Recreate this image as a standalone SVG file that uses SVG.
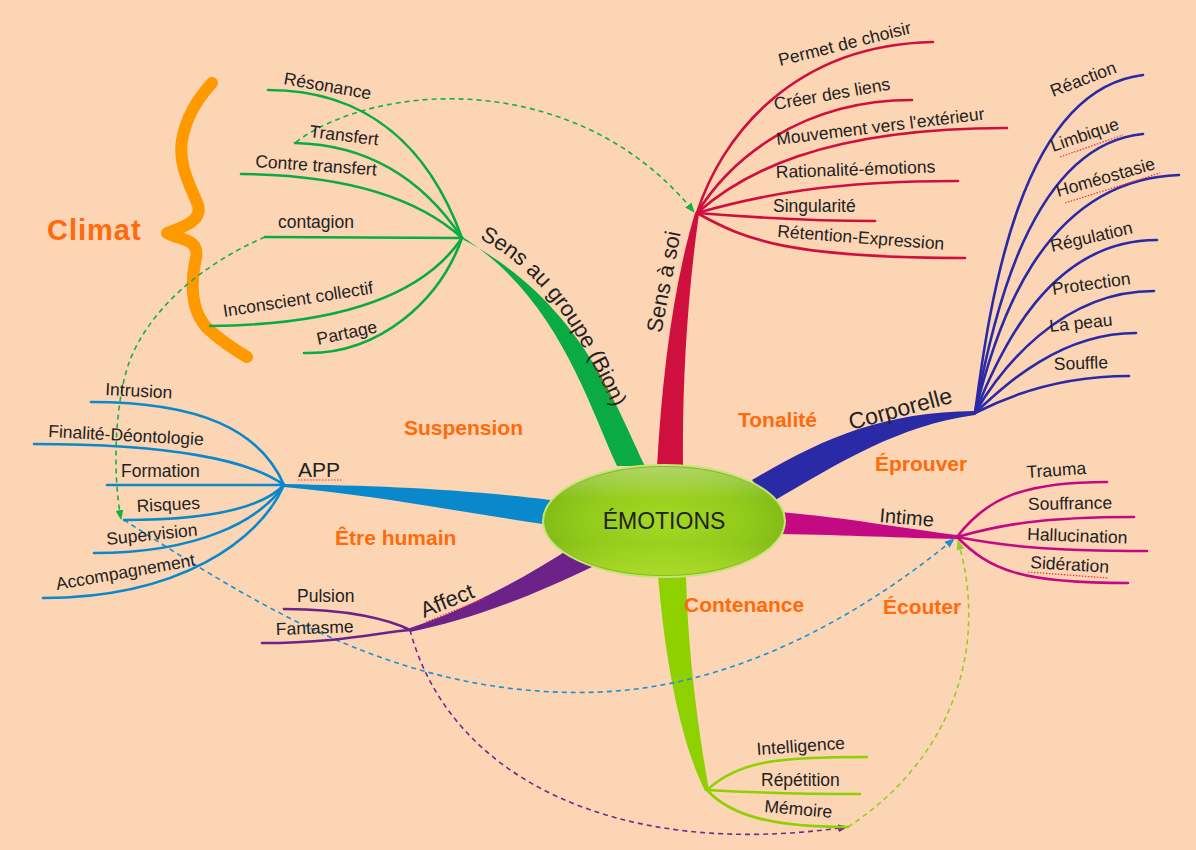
<svg xmlns="http://www.w3.org/2000/svg" width="1196" height="850" viewBox="0 0 1196 850">
<defs>
<style>
.lf{font-family:"Liberation Sans",Arial,sans-serif;font-size:17.5px;fill:#222;}
.br{font-family:"Liberation Sans",Arial,sans-serif;font-size:22px;fill:#222;}
.or{font-family:"Liberation Sans",Arial,sans-serif;font-size:21px;font-weight:bold;fill:#FF6A0A;}
.lg{fill:none;stroke-width:2.6;stroke-linecap:round;}
.g{stroke:#0AAB42;} .r{stroke:#CF103E;} .b{stroke:#2A2AA6;} .m{stroke:#C40A82;} .c{stroke:#0A88CC;} .p{stroke:#6D2289;} .y{stroke:#8FD000;}
.d{fill:none;stroke-width:1.6;stroke-dasharray:5 4;}
.ul{stroke:#FF2A2A;stroke-width:1.2;stroke-dasharray:1.5 1.5;fill:none;}
</style>
<radialGradient id="eg" cx="50%" cy="50%" r="55%">
<stop offset="0" stop-color="#A4D824"/>
<stop offset="0.6" stop-color="#93CB1C"/>
<stop offset="1" stop-color="#7FB816"/>
</radialGradient>
<linearGradient id="eh" x1="0" y1="0" x2="0" y2="1">
<stop offset="0" stop-color="#FFFFFF" stop-opacity="0.35"/>
<stop offset="0.3" stop-color="#FFFFFF" stop-opacity="0"/>
<stop offset="0.7" stop-color="#D8FF40" stop-opacity="0"/>
<stop offset="1" stop-color="#D8FF40" stop-opacity="0.45"/>
</linearGradient>
<marker id="ag" markerUnits="userSpaceOnUse" markerWidth="10" markerHeight="8" refX="9" refY="4" orient="auto"><path d="M0,0 L10,4 L0,8 z" fill="#18B040"/></marker>
<marker id="ab" markerUnits="userSpaceOnUse" markerWidth="10" markerHeight="8" refX="9" refY="4" orient="auto"><path d="M0,0 L10,4 L0,8 z" fill="#1E90D0"/></marker>
<marker id="ay" markerUnits="userSpaceOnUse" markerWidth="10" markerHeight="8" refX="9" refY="4" orient="auto"><path d="M0,0 L10,4 L0,8 z" fill="#99CC22"/></marker>
<marker id="ap" markerUnits="userSpaceOnUse" markerWidth="10" markerHeight="8" refX="9" refY="4" orient="auto"><path d="M0,0 L10,4 L0,8 z" fill="#702A8C"/></marker>
<path id="bionPath" d="M474,236 C 540,268 585,330 640,470"/>
</defs>
<rect width="1196" height="850" fill="#FCD5B5"/>

<g id="climat">
<path d="M212,83 C 198,98 186,118 182,140 C 178,165 190,185 198,205 C 203,222 180,228 167,233 C 178,240 200,238 196,258 C 190,285 192,310 206,327 C 220,340 235,350 247,357" fill="none" stroke="#FF9900" stroke-width="12" stroke-linecap="round" stroke-linejoin="round"/>
<text x="47" y="240" font-family="Liberation Sans, Arial, sans-serif" font-size="29" font-weight="bold" fill="#FF6A0A" letter-spacing="1">Climat</text>
</g>

<g id="connectors">
<path d="M617,466 C 586,398 556,296 461,236 L464,240 C 580,302 614,402 645,466 Z" fill="#0AAB42"/>
<path d="M657,467 C 662,380 672,290 695,213 L699,214 C 688,290 682,380 683,467 Z" fill="#CF103E"/>
<path d="M752,480 C 820,440 880,412 975,411 L975,415 C 900,425 840,462 772,502 Z" fill="#2A2AA6"/>
<path d="M780,512 C 850,518 900,528 957,535 L957,539 C 900,538 850,535 780,534 Z" fill="#C40A82"/>
<path d="M658,575 C 665,660 680,740 705,791 L709,790 C 700,740 688,660 686,575 Z" fill="#8FD000"/>
<path d="M410,628 C 450,615 510,588 575,545 L594,566 C 520,602 460,622 410,632 Z" fill="#6D2289"/>
<path d="M284,484 C 380,486 450,488 550,500 L550,525 C 460,512 380,496 284,487 Z" fill="#0A88CC"/>
<path class="d" stroke="#18B040" d="M296,142 C 380,80 580,70 694,212" marker-end="url(#ag)"/>
<path class="d" stroke="#18B040" d="M265,237 C 200,265 150,310 130,360 C 115,400 112,470 121,519" marker-end="url(#ag)"/>
<path class="d" stroke="#1E90D0" d="M124,520 C 250,600 400,700 600,692 C 750,686 880,600 954,539" marker-end="url(#ab)"/>
<path class="d" stroke="#99CC22" d="M848,827 C 950,760 990,650 958,541" marker-end="url(#ay)"/>
<path class="d" stroke="#702A8C" d="M410,630 C 450,780 620,860 847,827" marker-end="url(#ap)"/>
</g>

<g id="emotions">
<ellipse cx="664" cy="521" rx="121" ry="56" fill="url(#eg)" stroke="#C8E27C" stroke-width="2"/>
<ellipse cx="664" cy="521" rx="119" ry="54" fill="url(#eh)"/>
<text x="664" y="529" text-anchor="middle" font-family="Liberation Sans, Arial, sans-serif" font-size="23" fill="#222">ÉMOTIONS</text>
</g>

<g id="sens-au-groupe">
<text class="br"><textPath href="#bionPath" startOffset="6">Sens au groupe (Bion)</textPath></text>
<path class="ul" d="M594,364 L613,402"/>
</g>
<g id="resonance"><path class="lg g" d="M268,90 C 370,90 430,150 462,238"/><text class="lf" x="283" y="84" transform="rotate(10 283 84)">Résonance</text></g>
<g id="transfert"><path class="lg g" d="M295,143 C 380,145 430,190 462,238"/><text class="lf" x="309" y="137" transform="rotate(7 309 137)">Transfert</text></g>
<g id="contre-transfert"><path class="lg g" d="M241,174 C 350,175 420,200 462,238"/><text class="lf" x="255" y="167" transform="rotate(4 255 167)">Contre transfert</text></g>
<g id="contagion"><path class="lg g" d="M265,237 L462,238"/><text class="lf" x="278" y="228">contagion</text></g>
<g id="inconscient-collectif"><path class="lg g" d="M210,326 C 330,325 420,300 462,238"/><text class="lf" x="224" y="317" transform="rotate(-9 224 317)">Inconscient collectif</text></g>
<g id="partage"><path class="lg g" d="M304,353 C 380,355 440,300 462,238"/><text class="lf" x="318" y="345" transform="rotate(-12 318 345)">Partage</text></g>

<g id="sens-a-soi"><text class="br" x="671" y="283" text-anchor="middle" transform="rotate(-79 671 283)">Sens à soi</text></g>
<g id="permet"><path class="lg r" d="M697,213 C 720,140 790,45 933,42"/><text class="lf" x="780" y="66" transform="rotate(-14 780 66)">Permet de choisir</text></g>
<g id="creer"><path class="lg r" d="M697,213 C 730,160 800,100 912,100"/><text class="lf" x="775" y="110" transform="rotate(-10 775 110)">Créer des liens</text></g>
<g id="mouvement"><path class="lg r" d="M697,213 C 740,175 820,128 1007,128"/><text class="lf" x="777" y="145" transform="rotate(-7 777 145)">Mouvement vers l'extérieur</text></g>
<g id="rationalite"><path class="lg r" d="M697,213 C 760,195 830,181 958,181"/><text class="lf" x="776" y="178" transform="rotate(-2 776 178)">Rationalité-émotions</text></g>
<g id="singularite"><path class="lg r" d="M697,213 C 760,218 820,221 875,221"/><text class="lf" x="773" y="212">Singularité</text></g>
<g id="retention"><path class="lg r" d="M697,213 C 745,240 790,258 965,258"/><text class="lf" x="777" y="237" transform="rotate(4.4 777 237)">Rétention-Expression</text></g>

<g id="corporelle"><text class="br" x="851" y="430" transform="rotate(-15 851 430)" style="font-size:23px">Corporelle</text></g>
<g id="reaction"><path class="lg b" d="M975,413 C 990,300 1020,90 1143,75"/><text class="lf" x="1053" y="97" transform="rotate(-21 1053 97)">Réaction</text></g>
<g id="limbique"><path class="lg b" d="M975,413 C 992,320 1030,145 1143,134"/><text class="lf" x="1053" y="152" transform="rotate(-19 1053 152)">Limbique</text><path class="ul" d="M1060,157 L1123,135"/></g>
<g id="homeostasie"><path class="lg b" d="M975,413 C 995,330 1040,180 1179,175"/><text class="lf" x="1058" y="197" transform="rotate(-16 1058 197)">Homéostasie</text><path class="ul" d="M1065,203 L1160,173"/></g>
<g id="regulation"><path class="lg b" d="M975,413 C 1000,350 1050,240 1157,240"/><text class="lf" x="1052" y="252" transform="rotate(-13 1052 252)">Régulation</text></g>
<g id="protection"><path class="lg b" d="M975,413 C 1000,370 1060,291 1154,291"/><text class="lf" x="1053" y="295" transform="rotate(-8 1053 295)">Protection</text></g>
<g id="la-peau"><path class="lg b" d="M975,413 C 1005,385 1060,333 1136,333"/><text class="lf" x="1050" y="332" transform="rotate(-6 1050 332)">La peau</text></g>
<g id="souffle"><path class="lg b" d="M975,413 C 1010,395 1060,376 1129,376"/><text class="lf" x="1054" y="370" transform="rotate(-2 1054 370)">Souffle</text></g>

<g id="intime"><text class="br" x="879" y="522" transform="rotate(5 879 522)" style="font-size:20px">Intime</text></g>
<g id="trauma"><path class="lg m" d="M957,537 C 985,500 1020,482 1107,482"/><text class="lf" x="1027" y="478" transform="rotate(-4 1027 478)">Trauma</text></g>
<g id="souffrance"><path class="lg m" d="M957,537 C 1000,525 1040,517 1134,517"/><text class="lf" x="1028" y="510" transform="rotate(-1 1028 510)">Souffrance</text></g>
<g id="hallucination"><path class="lg m" d="M957,537 C 1000,545 1040,551 1147,551"/><text class="lf" x="1027" y="540" transform="rotate(2 1027 540)">Hallucination</text></g>
<g id="sideration"><path class="lg m" d="M957,537 C 990,570 1020,583 1128,583"/><text class="lf" x="1030" y="568" transform="rotate(3.5 1030 568)">Sidération</text><path class="ul" d="M1028,572 L1108,578"/></g>

<g id="app"><text class="br" x="298" y="477" style="font-size:21px">APP</text><path class="ul" d="M298,480 L343,480"/></g>
<g id="intrusion"><path class="lg c" d="M91,402 C 200,402 260,430 284,485"/><text class="lf" x="105" y="395" transform="rotate(3 105 395)">Intrusion</text></g>
<g id="finalite"><path class="lg c" d="M34,444 C 170,444 250,460 284,485"/><text class="lf" x="48" y="437" transform="rotate(3 48 437)">Finalité-Déontologie</text></g>
<g id="formation"><path class="lg c" d="M107,485 L284,485"/><text class="lf" x="121" y="477">Formation</text></g>
<g id="risques"><path class="lg c" d="M124,520 C 200,520 260,510 284,485"/><text class="lf" x="137" y="512" transform="rotate(-3 137 512)">Risques</text></g>
<g id="supervision"><path class="lg c" d="M94,553 C 200,553 260,520 284,485"/><text class="lf" x="107" y="545" transform="rotate(-6 107 545)">Supervision</text></g>
<g id="accompagnement"><path class="lg c" d="M43,598 C 180,598 260,540 284,485"/><text class="lf" x="57" y="590" transform="rotate(-10 57 590)">Accompagnement</text></g>

<g id="affect"><text class="br" x="424" y="618" transform="rotate(-22 424 618)">Affect</text><path class="ul" d="M426,622 L483,599"/></g>
<g id="pulsion"><path class="lg p" d="M284,609 C 350,609 390,620 410,630"/><text class="lf" x="297" y="602">Pulsion</text></g>
<g id="fantasme"><path class="lg p" d="M262,643 C 340,643 380,632 410,630"/><text class="lf" x="276" y="635" transform="rotate(-2 276 635)">Fantasme</text></g>

<g id="intelligence"><path class="lg y" d="M707,790 C 740,760 780,757 867,757"/><text class="lf" x="757" y="755" transform="rotate(-4 757 755)">Intelligence</text></g>
<g id="repetition"><path class="lg y" d="M707,790 C 760,793 800,794 860,794"/><text class="lf" x="761" y="786">Répétition</text></g>
<g id="memoire"><path class="lg y" d="M707,790 C 730,815 770,827 848,827"/><text class="lf" x="764" y="812" transform="rotate(5 764 812)">Mémoire</text></g>

<g id="labels">
<text class="or" x="404" y="435">Suspension</text>
<text class="or" x="738" y="427">Tonalité</text>
<text class="or" x="875" y="471">Éprouver</text>
<text class="or" x="335" y="545">Être humain</text>
<text class="or" x="684" y="612">Contenance</text>
<text class="or" x="883" y="614">Écouter</text>
</g>
</svg>
